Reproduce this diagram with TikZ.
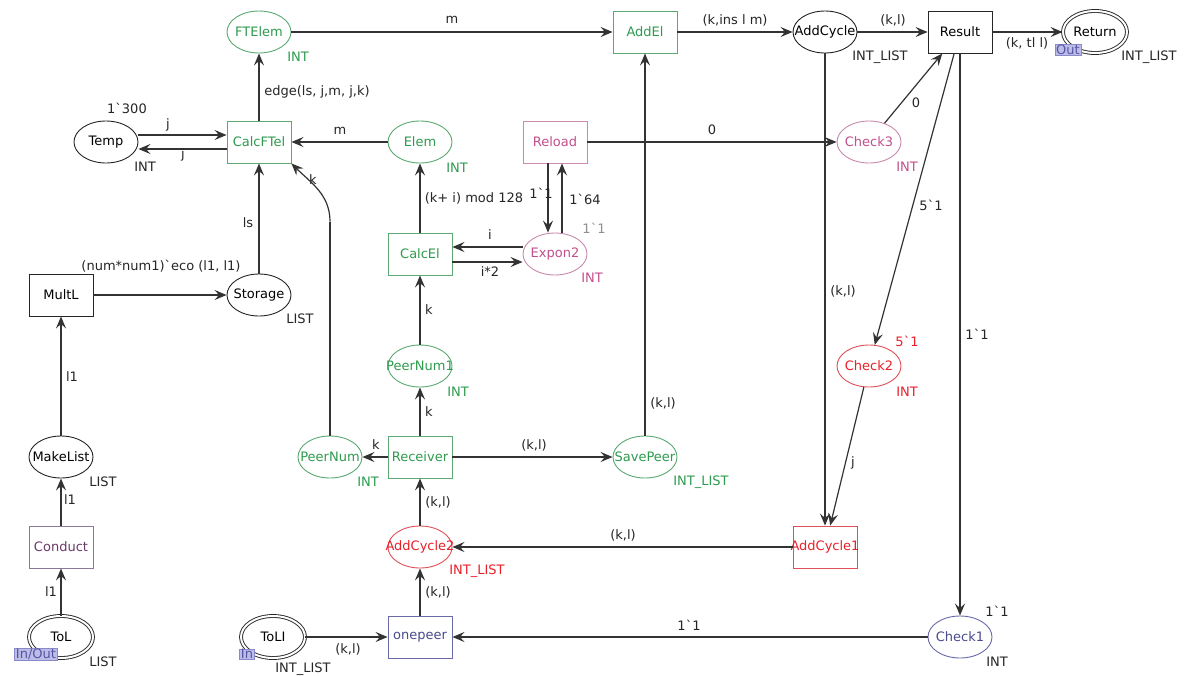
\documentclass[tikz,border=0pt]{standalone}
\usepackage{fontspec}
\setmainfont{DejaVu Sans}[Ligatures=TeXOff]
\usetikzlibrary{shapes.geometric,arrows.meta}
\definecolor{cgreen}{HTML}{2E9B4E}
\definecolor{cgreenb}{HTML}{5AAA72}
\definecolor{cpink}{HTML}{C2508C}
\definecolor{cpinkb}{HTML}{C88AAE}
\definecolor{cred}{HTML}{E8202A}
\definecolor{credb}{HTML}{E05058}
\definecolor{cpurp}{HTML}{6A3A6A}
\definecolor{cpurpb}{HTML}{8A7A9A}
\definecolor{cblue}{HTML}{4A4A8C}
\definecolor{cblueb}{HTML}{6A6AA8}
\definecolor{ctag}{HTML}{BCBCE8}
\definecolor{ctagb}{HTML}{8A8AC8}
\definecolor{ctagt}{HTML}{5555A5}
\definecolor{cgray}{HTML}{909090}
\tikzset{
  pl/.style={ellipse, draw, minimum width=64pt, minimum height=42pt, inner sep=0pt, line width=0.9pt},
  tr/.style={rectangle, draw, minimum width=64pt, minimum height=42pt, inner sep=0pt, line width=0.9pt},
  gn/.style={draw=cgreenb, text=cgreen},
  pk/.style={draw=cpinkb, text=cpink},
  rd/.style={draw=credb, text=cred},
  pu/.style={draw=cpurpb, text=cpurp},
  bl/.style={draw=cblueb, text=cblue},
  bk/.style={draw=black!85, text=black},
  io/.style={double, double distance=2pt},
  ln/.style={draw=black!80, line width=1.2pt},
  arc/.style={ln, -{Stealth[length=12pt,width=10pt,inset=4.5pt]}},
  lb/.style={inner sep=0pt, text=black!85},
  tag/.style={fill=ctag, draw=ctagb, text=ctagt, inner xsep=1.5pt, inner ysep=0.5pt, font=\fontsize{13}{13}\selectfont}
}
\newcommand{\bq}{\symbol{96}}
\begin{document}
\begin{tikzpicture}[x=1pt,y=-1pt, font=\fontsize{13}{15}\selectfont]
\useasboundingbox (0,0) rectangle (1189,675);
\fill[white] (0,0) rectangle (1189,675);
% places and transitions
\node[pl,gn] (fte) at (259,32) {\makebox[0pt]{FTElem}};
\node[tr,gn] (addel) at (645,32) {\makebox[0pt]{AddEl}};
\node[pl,bk] (acyc) at (825,32) {\makebox[0pt]{AddCycle}};
\node[tr,bk] (res) at (960,32) {\makebox[0pt]{Result}};
\node[pl,bk,io] (ret) at (1095,32) {\makebox[0pt]{Return}};
\node[pl,bk] (temp) at (106,142) {\makebox[0pt]{Temp}};
\node[tr,gn] (calcft) at (259,142) {\makebox[0pt]{CalcFTel}};
\node[pl,gn] (elem) at (420,142) {\makebox[0pt]{Elem}};
\node[tr,pk] (rel) at (555,142) {\makebox[0pt]{Reload}};
\node[pl,pk] (ch3) at (869,142) {\makebox[0pt]{Check3}};
\node[tr,gn] (calcel) at (420,254) {\makebox[0pt]{CalcEl}};
\node[pl,pk] (exp) at (555,254) {\makebox[0pt]{Expon2}};
\node[tr,bk] (mult) at (61,295) {\makebox[0pt]{MultL}};
\node[pl,bk] (stor) at (259,295) {\makebox[0pt]{Storage}};
\node[pl,gn] (pn1) at (420,366) {\makebox[0pt]{PeerNum1}};
\node[pl,rd] (ch2) at (869,366) {\makebox[0pt]{Check2}};
\node[pl,bk] (mkl) at (61,457) {\makebox[0pt]{MakeList}};
\node[pl,gn] (pn) at (330,457) {\makebox[0pt]{PeerNum}};
\node[tr,gn] (recv) at (420,457) {\makebox[0pt]{Receiver}};
\node[pl,gn] (sp) at (645,457) {\makebox[0pt]{SavePeer}};
\node[tr,pu] (cond) at (61,547) {\makebox[0pt]{Conduct}};
\node[pl,rd] (ac2) at (420,547) {\makebox[0pt]{AddCycle2}};
\node[tr,rd] (ac1) at (825,547) {\makebox[0pt]{AddCycle1}};
\node[pl,bk,io] (tol) at (61,637) {\makebox[0pt]{ToL}};
\node[pl,bk,io] (toli) at (273,637) {\makebox[0pt]{ToLI}};
\node[tr,bl] (onep) at (420,637) {\makebox[0pt]{onepeer}};
\node[pl,bl] (ch1) at (960,637) {\makebox[0pt]{Check1}};
% port tags
\node[tag] (tout) at (1068,50) {Out};
\node[tag] (tio) at (36,654) {In/Out};
\node[tag] (tin) at (247,654) {In};
% arcs
\draw[arc] (fte) -- (addel);
\draw[arc] (addel) -- (acyc);
\draw[arc] (acyc) -- (res);
\draw[arc] (res) -- (ret);
\draw[arc] (calcft) -- (fte);
\draw[arc] ([yshift=7pt]temp.east) -- ([yshift=7pt]calcft.west);
\draw[arc] ([yshift=-7pt]calcft.west) -- ([yshift=-7pt]temp.east);
\draw[arc] (elem) -- (calcft);
\draw[arc] (stor) -- (calcft);
\path (pn.north) ++(0,-214) coordinate (kbend);
\draw[ln] (pn.north) -- (kbend);
\draw[arc] (kbend) to[out=90,in=-45] (calcft.south east);
\draw[arc] (mult) -- (stor);
\draw[arc] (mkl) -- (mult);
\draw[arc] (cond) -- (mkl);
\draw[arc] (tol) -- (cond);
\draw[arc] (calcel) -- (elem);
\draw[arc] ([xshift=-7pt]rel.south) -- ([xshift=-7pt]exp.north);
\draw[arc] ([xshift=7pt]exp.north) -- ([xshift=7pt]rel.south);
\draw[arc] ([yshift=7pt]exp.west) -- ([yshift=7pt]calcel.east);
\draw[arc] ([yshift=-8pt]calcel.east) -- ([yshift=-8pt]exp.west);
\draw[arc] (pn1) -- (calcel);
\draw[arc] (recv) -- (pn1);
\draw[arc] (recv) -- (pn);
\draw[arc] (recv) -- (sp);
\draw[arc] (sp) -- (addel);
\draw[arc] (rel) -- (ch3);
\draw[arc] (acyc) -- (ac1);
\draw[arc] (ch3) -- (res);
\draw[arc] (res) -- (ch2);
\draw[arc] (ch2) -- (ac1);
\draw[arc] (res) -- (ch1);
\draw[arc] (ac1) -- (ac2);
\draw[arc] (ac2) -- (recv);
\draw[arc] (onep) -- (ac2);
\draw[arc] (ch1) -- (onep);
\draw[arc] (toli) -- (onep);
% arc inscriptions
\node[lb] (a1) at (452,20) {m};
\node[lb] (a2) at (735,20) {(k,ins l m)};
\node[lb] (a3) at (893,20) {(k,l)};
\node[lb] (a4) at (1027,43) {(k, tl l)};
\node[lb] (a5) at (317,92) {edge(ls, j,m, j,k)};
\node[lb] (a6) at (168,125) {j};
\node[lb] (a7) at (183,155) {j};
\node[lb] (a8) at (340,131) {m};
\node[lb] (a9) at (313,180) {k};
\node[lb] (a10) at (248,223) {ls};
\node[lb] (a11) at (161,266) {(num*num1)\bq eco (l1, l1)};
\node[lb] (a12) at (72,377) {l1};
\node[lb] (a13) at (70,500) {l1};
\node[lb] (a14) at (51,592) {l1};
\node[lb] (a15) at (474,198) {(k+ i) mod 128};
\node[lb] (a16) at (541,193) {1\bq 1};
\node[lb] (a17) at (585,199) {1\bq 64};
\node[lb] (a18) at (490,235) {i};
\node[lb] (a19) at (490,272) {i*2};
\node[lb] (a20) at (429,310) {k};
\node[lb] (a21) at (429,412) {k};
\node[lb] (a22) at (376,445) {k};
\node[lb] (a23) at (534,445) {(k,l)};
\node[lb] (a24) at (663,403) {(k,l)};
\node[lb] (a25) at (712,130) {0};
\node[lb] (a26) at (843,291) {(k,l)};
\node[lb] (a27) at (916,103) {0};
\node[lb] (a28) at (931,205) {5\bq 1};
\node[lb] (a29) at (853,463) {j};
\node[lb] (a30) at (977,334) {1\bq 1};
\node[lb] (a31) at (623,535) {(k,l)};
\node[lb] (a32) at (438,502) {(k,l)};
\node[lb] (a33) at (438,592) {(k,l)};
\node[lb] (a34) at (689,625) {1\bq 1};
\node[lb] (a35) at (348,649) {(k,l)};
% colour sets and initial markings
\node[lb,text=cgreen] (s1) at (298,57) {INT};
\node[lb] (s2) at (880,57) {INT\_LIST};
\node[lb] (s3) at (1149,57) {INT\_LIST};
\node[lb] (s4) at (127,108) {1\bq 300};
\node[lb] (s5) at (145,167) {INT};
\node[lb,text=cgreen] (s6) at (457,168) {INT};
\node[lb,text=cpink] (s7) at (907,167) {INT};
\node[lb,text=cgray] (s8) at (594,228) {1\bq 1};
\node[lb,text=cpink] (s9) at (592,278) {INT};
\node[lb] (s10) at (300,319) {LIST};
\node[lb,text=cgreen] (s11) at (458,392) {INT};
\node[lb,text=cred] (s12) at (907,341) {5\bq 1};
\node[lb,text=cred] (s13) at (907,392) {INT};
\node[lb] (s14) at (103,482) {LIST};
\node[lb,text=cgreen] (s15) at (368,482) {INT};
\node[lb,text=cgreen] (s16) at (701,482) {INT\_LIST};
\node[lb,text=cred] (s17) at (477,571) {INT\_LIST};
\node[lb] (s18) at (997,611) {1\bq 1};
\node[lb] (s19) at (997,662) {INT};
\node[lb] (s20) at (103,662) {LIST};
\node[lb] (s21) at (303,669) {INT\_LIST};
\end{tikzpicture}
\end{document}
